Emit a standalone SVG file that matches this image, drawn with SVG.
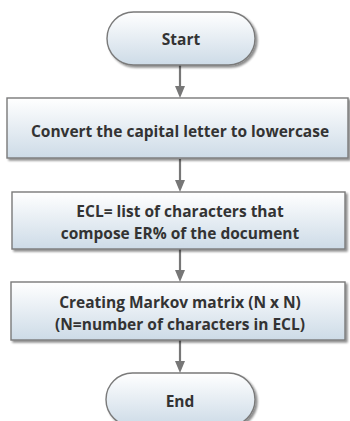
<svg xmlns="http://www.w3.org/2000/svg" width="350" height="421" viewBox="0 0 350 421">
<defs>
<linearGradient id="g" x1="0" y1="0" x2="0" y2="1">
<stop offset="0" stop-color="#ffffff"/>
<stop offset="1" stop-color="#cddbe7"/>
</linearGradient>
<filter id="sh" x="-10%" y="-10%" width="130%" height="140%">
<feGaussianBlur in="SourceAlpha" stdDeviation="1.2"/>
<feOffset dx="1.5" dy="2" result="o"/>
<feComponentTransfer><feFuncA type="linear" slope="0.45"/></feComponentTransfer>
<feMerge><feMergeNode/><feMergeNode in="SourceGraphic"/></feMerge>
</filter>
</defs>
<style>
.shape{fill:url(#g);stroke:#7a7a7a;stroke-width:1.4;filter:url(#sh)}
.t{font-family:"Open Sans","Noto Sans",sans-serif;font-weight:bold;font-size:15.5px;fill:#333;text-anchor:middle}
.c{stroke:#777;stroke-width:2.2;fill:none}
.h{fill:#777}
</style>
<rect width="350" height="421" fill="#fff"/>
<g id="connectors">
<line class="c" x1="180" y1="65" x2="180" y2="86"/>
<path class="h" d="M175,86 L185,86 L180,98 Z"/>
<line class="c" x1="180" y1="159" x2="180" y2="180"/>
<path class="h" d="M175,180 L185,180 L180,192 Z"/>
<line class="c" x1="180" y1="249" x2="180" y2="270"/>
<path class="h" d="M175,270 L185,270 L180,282 Z"/>
<line class="c" x1="180" y1="340" x2="180" y2="361"/>
<path class="h" d="M175,361 L185,361 L180,373 Z"/>
</g>
<g id="start">
<rect class="shape" x="107" y="12" width="148" height="53" rx="26.5" ry="26.5"/>
<text class="t" x="181" y="45">Start</text>
</g>
<g id="convert">
<rect class="shape" x="7" y="98" width="341" height="60"/>
<text class="t" x="180" y="137">Convert the capital letter to lowercase</text>
</g>
<g id="ecl">
<rect class="shape" x="12" y="192" width="333" height="57"/>
<text class="t" x="180" y="217">ECL= list of characters that</text>
<text class="t" x="180" y="239">compose ER% of the document</text>
</g>
<g id="markov">
<rect class="shape" x="11" y="282" width="334" height="58"/>
<text class="t" x="180" y="308">Creating Markov matrix (N x N)</text>
<text class="t" x="180" y="330">(N=number of characters in ECL)</text>
</g>
<g id="end">
<rect class="shape" x="106" y="373" width="149" height="53" rx="26.5" ry="26.5"/>
<text class="t" x="180" y="407">End</text>
</g>
</svg>
